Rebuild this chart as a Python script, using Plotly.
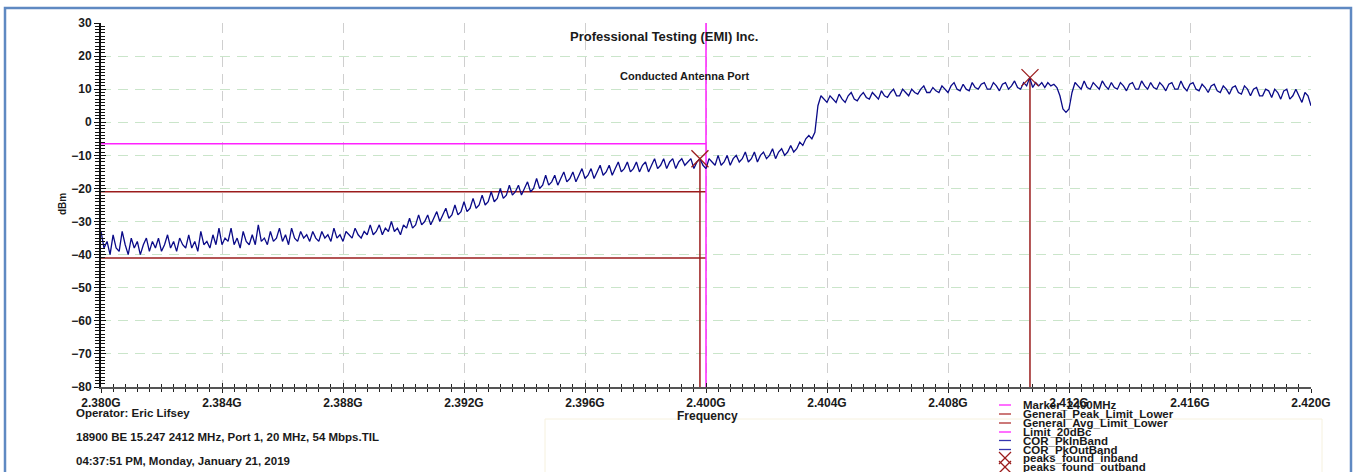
import plotly.graph_objects as go

# ---------------- data ----------------
F_START_GHZ = 2.380
F_STEP_GHZ = 0.0001

trace_dbm = [
    -33, -38, -36, -40, -34, -38, -39, -33, -37, -40,
    -35, -38, -36, -40, -37, -35, -39, -36, -38, -35,
    -39, -37, -34, -38, -36, -39, -35, -37, -38, -34,
    -38, -36, -39, -33, -37, -36, -38, -34, -37, -32,
    -37, -35, -36, -32, -37, -35, -38, -33, -36, -37,
    -34, -37, -31, -36, -35, -37, -33, -36, -35, -32,
    -36, -34, -37, -32, -35, -36, -33, -35, -34, -36,
    -33, -35, -36, -33, -35, -34, -36, -32, -35, -34,
    -36, -33, -34, -35, -32, -34, -35, -33, -34, -31,
    -34, -33, -31, -34, -32, -33, -30, -33, -32, -34,
    -31, -32, -29, -32, -31, -28, -31, -30, -28, -31,
    -29, -27, -30, -28, -26, -29, -28, -25, -28, -27,
    -24, -27, -26, -23, -26, -25, -22, -25, -24, -21,
    -24, -23, -20, -23, -22, -19, -22, -21, -19, -22,
    -20, -18, -21, -20, -17, -20, -19, -16, -19, -18,
    -16, -19, -17, -15, -18, -17, -15, -18, -16, -14,
    -17, -16, -14, -17, -15, -13, -16, -15, -13, -16,
    -14, -12, -15, -14, -12, -15, -14, -12, -15, -13,
    -12, -15, -13, -11, -14, -13, -11, -14, -12, -11,
    -14, -12, -11, -13, -12, -11, -14, -12, -11, -13,
    -14, -11, -12, -13, -10, -13, -12, -10, -13, -11,
    -10, -12, -11, -9, -12, -11, -9, -12, -10, -9,
    -11, -10, -8, -11, -9, -8, -10, -9, -7, -9,
    -8, -6, -7, -5, -4, -5, -3, 5, 8, 7,
    6, 8, 7, 6, 8.5, 7, 6, 8, 9, 7,
    6.5, 8, 9, 7.5, 7, 9, 8, 7, 9.5, 8,
    7.5, 9, 10, 8, 8, 10, 9, 8, 10, 9,
    8.5, 10, 11, 9, 9, 10.5, 9.5, 9, 11, 10,
    9, 11, 12, 10, 9.5, 11.5, 10, 9.5, 12, 10.5,
    10, 11.5, 12, 10, 10, 12, 11, 9.5, 11.5, 12,
    10, 11, 12.5, 10.5, 10, 12, 11, 13.5, 10.5, 12,
    11, 12, 10.5, 12, 11, 11.5, 10.5, 8, 4, 3,
    4, 9, 12, 11, 10, 12.5, 10.5, 10, 12, 11,
    10, 12.5, 11, 10, 12, 10.5, 10, 12, 11, 9.5,
    11.5, 12, 10, 10, 12.5, 11, 10, 12, 10.5, 10,
    12, 11, 9.5, 11.5, 12, 10, 10, 12.5, 10.5, 9.5,
    11.5, 12, 10, 9.5, 11.5, 10.5, 9, 11, 11.5, 9.5,
    9, 11, 10, 8.5, 10.5, 11, 9, 8.5, 11, 10,
    8, 10, 10.5, 8, 8, 10, 9.5, 7.5, 10, 9,
    7, 9.5, 10, 7, 8, 10, 8, 6, 9, 8,
    5,
]
freq_ghz = [round(F_START_GHZ + i * F_STEP_GHZ, 4) for i in range(len(trace_dbm))]
band_edge_index = 200  # 2.400 GHz

limit_freq = [2.380, 2.400]
peak_limit_lower = -21.0
avg_limit_lower = -41.0
limit_20dbc = -6.5
marker_freq = 2.400

peaks_in_freq = [2.41071]
peaks_in_dbm = [13.5]
peaks_out_freq = [2.3998]
peaks_out_dbm = [-11.0]

legend_names = ["Marker_2400MHz", "General_Peak_Limit_Lower", "General_Avg_Limit_Lower",
                "Limit_20dBc", "COR_PkInBand", "COR_PkOutBand",
                "peaks_found_inband", "peaks_found_outband"]
legend_kinds = ["line", "line", "line", "line", "line", "line", "x", "x"]

info_lines = ["Operator: Eric Lifsey",
              "18900 BE 15.247 2412 MHz, Port 1, 20 MHz, 54 Mbps.TIL",
              "04:37:51 PM, Monday, January 21, 2019"]

X_RANGE = [2.380, 2.420]
Y_RANGE = [-80, 30]

# ---------------- styling ----------------
W, H = 1355, 472
ML, MR, MT, MB = 101, 44, 23, 85
PW, PH = W - ML - MR, H - MT - MB

def px(x):
    return (x - ML) / PW

def py(y):
    return (H - MB - y) / PH

TRACE_C = "#0a0a88"
RED_C = "#9b1c1c"
MAG_C = "#ff22ff"
FONT = "Liberation Sans, Arial, sans-serif"

fig = go.Figure()

# limits
fig.add_trace(go.Scatter(x=limit_freq, y=[limit_20dbc] * 2, mode="lines",
                         line=dict(color=MAG_C, width=1.5), showlegend=False, hoverinfo="skip"))
fig.add_trace(go.Scatter(x=limit_freq, y=[peak_limit_lower] * 2, mode="lines",
                         line=dict(color=RED_C, width=1.5), showlegend=False, hoverinfo="skip"))
fig.add_trace(go.Scatter(x=limit_freq, y=[avg_limit_lower] * 2, mode="lines",
                         line=dict(color=RED_C, width=1.5), showlegend=False, hoverinfo="skip"))
fig.add_trace(go.Scatter(x=[marker_freq] * 2, y=Y_RANGE, mode="lines",
                         line=dict(color=MAG_C, width=1.5), showlegend=False, hoverinfo="skip"))

# peak drop lines
for f, v in zip(peaks_out_freq + peaks_in_freq, peaks_out_dbm + peaks_in_dbm):
    fig.add_trace(go.Scatter(x=[f, f], y=[v, Y_RANGE[0]], mode="lines",
                             line=dict(color=RED_C, width=1.5), showlegend=False, hoverinfo="skip"))

# traces
fig.add_trace(go.Scatter(x=freq_ghz[:band_edge_index + 1], y=trace_dbm[:band_edge_index + 1],
                         mode="lines", line=dict(color=TRACE_C, width=1.3), showlegend=False))
fig.add_trace(go.Scatter(x=freq_ghz[band_edge_index:], y=trace_dbm[band_edge_index:],
                         mode="lines", line=dict(color=TRACE_C, width=1.3), showlegend=False))

# peak markers
fig.add_trace(go.Scatter(x=peaks_in_freq + peaks_out_freq, y=peaks_in_dbm + peaks_out_dbm,
                         mode="markers",
                         marker=dict(symbol="x-thin", size=17, line=dict(color=RED_C, width=1.3)),
                         showlegend=False))

# dummy trace for overlay axes (inside ticks -> crossing ticks)
fig.add_trace(go.Scatter(x=[X_RANGE[0]], y=[Y_RANGE[0]], xaxis="x2", yaxis="y2",
                         mode="markers", marker=dict(opacity=0), showlegend=False, hoverinfo="skip"))

tickfont = dict(family=FONT, size=12, color="#1a1a1a", weight="bold")

fig.update_layout(
    width=W, height=H,
    margin=dict(l=ML, r=MR, t=MT, b=MB),
    paper_bgcolor="white", plot_bgcolor="white",
    showlegend=False,
    xaxis=dict(range=X_RANGE, tickmode="linear", tick0=2.380, dtick=0.004,
               tickformat=".3f", ticksuffix="G", tickfont=tickfont,
               showgrid=True, gridcolor="#cfcfcf", griddash="10px,7px", gridwidth=1,
               zeroline=False, showline=True, linecolor="#555555", linewidth=2,
               ticks="outside", ticklen=4, tickcolor="#222", tickwidth=1,
               minor=dict(dtick=0.0004, tick0=2.380, ticks="outside", ticklen=3,
                          tickcolor="#222", tickwidth=1, showgrid=False)),
    yaxis=dict(range=Y_RANGE, tickmode="linear", tick0=-80, dtick=10, tickfont=tickfont,
               showgrid=True, gridcolor="#cae5ca", griddash="10px,7px", gridwidth=1,
               zeroline=False, showline=True, linecolor="#111111", linewidth=2,
               ticks="outside", ticklen=5, tickcolor="#111", tickwidth=1,
               minor=dict(dtick=1, tick0=-80, ticks="outside", ticklen=4,
                          tickcolor="#111", tickwidth=1, showgrid=False)),
    xaxis2=dict(range=X_RANGE, overlaying="x", anchor="y2", showgrid=False, zeroline=False,
                showticklabels=False, showline=False, tickmode="linear", tick0=2.380, dtick=0.004,
                ticks="inside", ticklen=4, tickcolor="#222", tickwidth=1,
                minor=dict(dtick=0.0004, tick0=2.380, ticks="inside", ticklen=3,
                           tickcolor="#222", tickwidth=1, showgrid=False)),
    yaxis2=dict(range=Y_RANGE, overlaying="y", anchor="x2", side="left", showgrid=False,
                zeroline=False, showticklabels=False, showline=False,
                tickmode="linear", tick0=-80, dtick=10,
                ticks="inside", ticklen=5, tickcolor="#111", tickwidth=1,
                minor=dict(dtick=1, tick0=-80, ticks="inside", ticklen=4,
                           tickcolor="#111", tickwidth=1, showgrid=False)),
)

ann = []
def text(x, y, s, size, xanchor="center", angle=0):
    ann.append(dict(x=px(x), y=py(y), xref="paper", yref="paper", text=s, showarrow=False,
                    xanchor=xanchor, yanchor="middle", textangle=angle,
                    font=dict(family=FONT, size=size, color="#1a1a1a", weight="bold")))

text(664, 37, "Professional Testing (EMI) Inc.", 13)
text(684, 76, "Conducted Antenna Port", 11)
text(62, 204, "dBm", 10, angle=-90)
text(707, 416, "Frequency", 12)
for s, yy in zip(info_lines, [413, 437, 461]):
    text(74, yy, s, 11.5, xanchor="left")

legend_y = [405, 414, 423, 432, 440.5, 449.5, 458, 467]
legend_colors = [MAG_C, "#b03030", "#b03030", MAG_C, "#3535b0", "#3535b0", RED_C, RED_C]

shapes = []
# faint box at bottom
shapes.append(dict(type="rect", xref="paper", yref="paper", x0=px(545), x1=px(1322),
                   y0=py(480), y1=py(419), line=dict(color="#f6f1de", width=1),
                   fillcolor="rgba(0,0,0,0)", layer="below"))
for name, kind, yy, col in zip(legend_names, legend_kinds, legend_y, legend_colors):
    text(1021, yy, name, 11.5, xanchor="left")
    if kind == "line":
        shapes.append(dict(type="line", xref="paper", yref="paper", x0=px(999), x1=px(1011),
                           y0=py(yy), y1=py(yy), line=dict(color=col, width=1.3)))
    else:
        shapes.append(dict(type="line", xref="paper", yref="paper", x0=px(999), x1=px(1011),
                           y0=py(yy - 6), y1=py(yy + 6), line=dict(color=col, width=1.3)))
        shapes.append(dict(type="line", xref="paper", yref="paper", x0=px(999), x1=px(1011),
                           y0=py(yy + 6), y1=py(yy - 6), line=dict(color=col, width=1.3)))

# outer frame
shapes.append(dict(type="rect", xref="paper", yref="paper", x0=px(5), x1=px(1351),
                   y0=py(480), y1=py(8), line=dict(color="#5f89c2", width=2.5),
                   fillcolor="rgba(0,0,0,0)"))

fig.update_layout(annotations=ann, shapes=shapes)

fig.write_html("out.html", config={"displayModeBar": False},
               post_script="document.body.style.margin='0';document.body.style.overflow='hidden';")
